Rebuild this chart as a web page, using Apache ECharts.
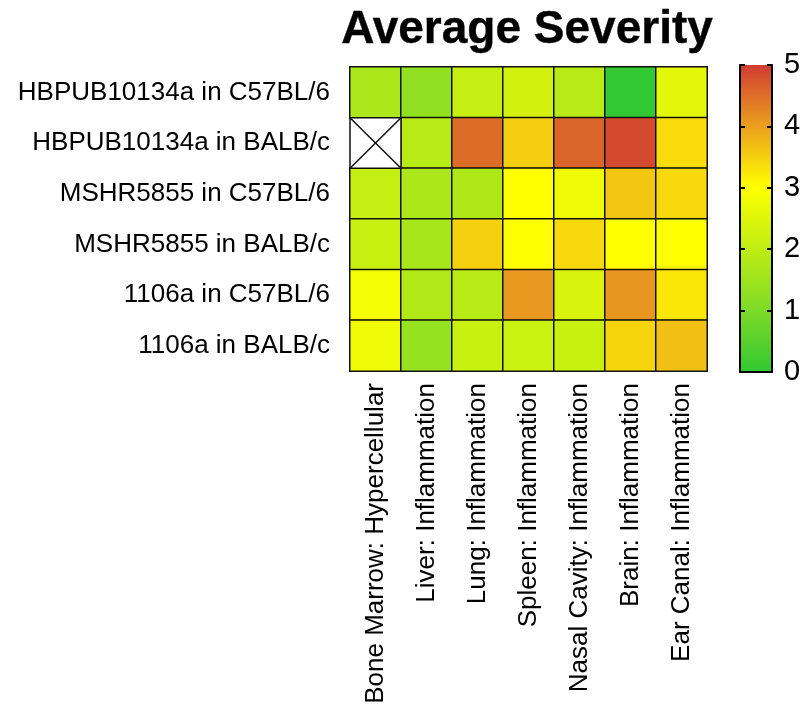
<!DOCTYPE html>
<html>
<head>
<meta charset="utf-8">
<script src="https://cdn.jsdelivr.net/npm/echarts@6/dist/echarts.min.js"></script>
<style>html,body{margin:0;padding:0;background:#fff;}#c{width:806px;height:709px;}</style>
</head>
<body>
<div id="c"></div>
<script>
var organs = ['Bone Marrow: Hypercellular','Liver: Inflammation','Lung: Inflammation','Spleen: Inflammation','Nasal Cavity: Inflammation','Brain: Inflammation','Ear Canal: Inflammation'];
var groups = ['HBPUB10134a in C57BL/6','HBPUB10134a in BALB/c','MSHR5855 in C57BL/6','MSHR5855 in BALB/c','1106a in C57BL/6','1106a in BALB/c'];
var hbpubC57 = [1.7, 1.3, 2.1, 2.3, 1.9, 0.0, 2.55];
var hbpubBALB = [null, 1.9, 4.52, 3.54, 4.6, 4.86, 3.37];
var mshrC57 = [2.1, 1.7, 1.75, 3.0, 2.75, 3.6, 3.4];
var mshrBALB = [2.15, 1.65, 3.5, 2.95, 3.4, 3.0, 3.0];
var s1106C57 = [2.85, 1.8, 1.9, 4.08, 2.4, 4.1, 3.25];
var s1106BALB = [2.75, 1.4, 2.15, 2.2, 2.15, 3.45, 3.66];
var scaleTicks = [0, 1, 2, 3, 4, 5];

var rows = [hbpubC57, hbpubBALB, mshrC57, mshrBALB, s1106C57, s1106BALB];
var heatData = [], missing = [];
rows.forEach(function (r, yi) {
  r.forEach(function (v, xi) {
    if (v === null) { missing.push([xi, yi]); heatData.push([xi, yi, '-']); }
    else heatData.push([xi, yi, v]);
  });
});

var FONT = 'Liberation Sans, Arial, sans-serif';
var chart = echarts.init(document.getElementById('c'));
chart.setOption({
  backgroundColor: '#fff',
  animation: false,
  title: {
    text: 'Average Severity',
    left: 522, top: 2, textAlign: 'center',
    textStyle: { fontFamily: FONT, fontSize: 46, fontWeight: 'bold', color: '#000',
      textBorderColor: '#000', textBorderWidth: 0.4 }
  },
  grid: [
    { left: 350, top: 67, width: 357, height: 304 },
    { left: 740, top: 65, width: 32, height: 307 }
  ],
  xAxis: [
    { type: 'category', data: organs, gridIndex: 0, axisLine: { show: false }, axisTick: { show: false },
      splitLine: { show: false },
      axisLabel: { rotate: 90, margin: 12, fontFamily: FONT, fontSize: 26, color: '#000', interval: 0 } },
    { type: 'value', gridIndex: 1, min: 0, max: 1, position: 'bottom', z: 10,
      axisLine: { show: true, lineStyle: { color: '#000', width: 2 } }, axisTick: { show: false },
      axisLabel: { show: false }, splitLine: { show: false } },
    { type: 'value', gridIndex: 1, min: 0, max: 1, position: 'top', z: 10,
      axisLine: { show: true, lineStyle: { color: '#000', width: 2 } }, axisTick: { show: false },
      axisLabel: { show: false }, splitLine: { show: false } }
  ],
  yAxis: [
    { type: 'category', data: groups, gridIndex: 0, inverse: true, axisLine: { show: false }, axisTick: { show: false },
      splitLine: { show: false },
      axisLabel: { margin: 20, fontFamily: FONT, fontSize: 26, color: '#000' } },
    { type: 'value', gridIndex: 1, min: 0, max: 5, interval: 1, position: 'left', z: 10,
      axisLine: { show: true, onZero: false, lineStyle: { color: '#000', width: 2 } },
      axisTick: { show: true, inside: true, length: 5, lineStyle: { color: '#000', width: 2 } },
      axisLabel: { show: false }, splitLine: { show: false } },
    { type: 'value', gridIndex: 1, min: 0, max: 5, interval: 1, position: 'right', z: 10,
      axisLine: { show: true, onZero: false, lineStyle: { color: '#000', width: 2 } },
      axisTick: { show: true, inside: true, length: 5, lineStyle: { color: '#000', width: 2 } },
      axisLabel: { show: true, margin: 12, fontFamily: FONT, fontSize: 29, color: '#000',
        formatter: function (v) { return scaleTicks.indexOf(v) >= 0 ? String(v) : ''; } },
      splitLine: { show: false } }
  ],
  visualMap: {
    type: 'continuous', min: 0, max: 5, seriesIndex: 0, calculable: false, z: 1,
    orient: 'vertical', left: 740, top: 65, itemWidth: 32, itemHeight: 307, padding: 0,
    text: null, showLabel: false, hoverLink: false,
    inRange: { color: ['#32C832', '#7DDA28', '#BEED14', '#FFFF00', '#EBA01E', '#D03C32'] }
  },
  series: [
    { type: 'heatmap', xAxisIndex: 0, yAxisIndex: 0, data: heatData,
      itemStyle: { borderColor: '#111', borderWidth: 1.5 }, emphasis: { disabled: true } },
    { type: 'custom', xAxisIndex: 0, yAxisIndex: 0, data: missing,
      renderItem: function (params, api) {
        var c = api.coord([api.value(0), api.value(1)]);
        var s = api.size([1, 1]);
        var x0 = c[0] - s[0] / 2, y0 = c[1] - s[1] / 2, x1 = c[0] + s[0] / 2, y1 = c[1] + s[1] / 2;
        var st = { stroke: '#111', lineWidth: 1.5, fill: null };
        return { type: 'group', children: [
          { type: 'rect', shape: { x: x0, y: y0, width: s[0], height: s[1] }, style: { fill: '#fff', stroke: '#111', lineWidth: 1.5 } },
          { type: 'line', shape: { x1: x0, y1: y0, x2: x1, y2: y1 }, style: st },
          { type: 'line', shape: { x1: x0, y1: y1, x2: x1, y2: y0 }, style: st }
        ] };
      } }
  ]
});
</script>
</body>
</html>
